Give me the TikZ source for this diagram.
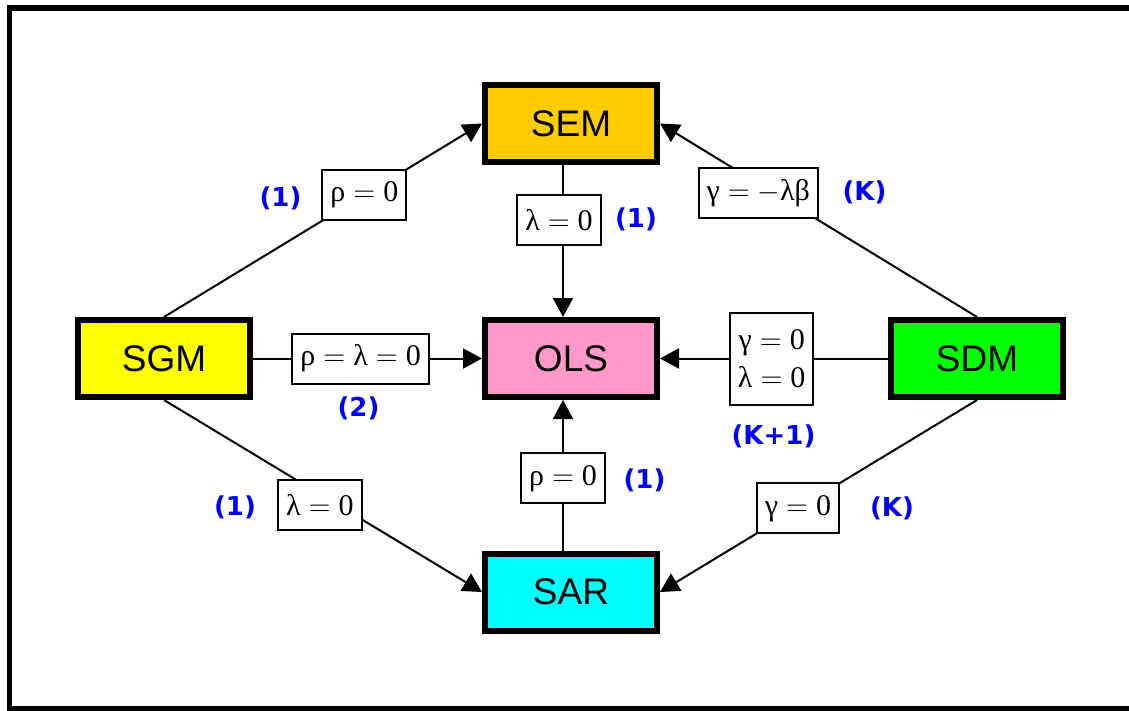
\documentclass[tikz,border=0pt]{standalone}
\usepackage{fontspec}
\setmainfont{Liberation Serif}
\newfontfamily\boxfont{Liberation Sans}
\newfontfamily\tagfont{DejaVu Sans}
\usetikzlibrary{arrows.meta}
\definecolor{semcol}{HTML}{FFCC00}
\definecolor{olscol}{HTML}{FF99CC}
\definecolor{sarcol}{HTML}{00FFFF}
\definecolor{sgmcol}{HTML}{FFFF00}
\definecolor{sdmcol}{HTML}{00FF00}
\definecolor{tagblue}{HTML}{0000FF}
\newcommand{\eqs}{\ensuremath{{}={}}}

\begin{document}
\begin{tikzpicture}[x=0.5pt, y=-0.5pt,
	model/.style={draw, line width=3pt, minimum width=86pt, minimum height=38.5pt, inner sep=0pt, font=\boxfont\fontsize{18.5}{20}\selectfont},
	cond/.style={draw, fill=white, line width=1pt, inner xsep=4pt, minimum height=25pt, font=\fontsize{15}{19}\selectfont},
	tag/.style={text=tagblue, font=\tagfont\bfseries\fontsize{13}{15}\selectfont},
	link/.style={line width=1pt, -{Triangle[length=9.5pt,width=10pt]}}]
		\useasboundingbox (0,0) rectangle (1129,711);
		% frame, cut off on the right
		\draw[line width=2.75pt] (1129,7.8) -- (9.5,7.8) -- (9.5,709) -- (1129,709);
		% models
		\node[model, fill=semcol] (SEM) at (571,123.5) {SEM};
		\node[model, fill=olscol] (OLS) at (571,358.5) {OLS};
		\node[model, fill=sarcol] (SAR) at (571,592) {SAR};
		\node[model, fill=sgmcol] (SGM) at (164,358.5) {SGM};
		\node[model, fill=sdmcol] (SDM) at (977,358.5) {SDM};
		% restrictions
		\draw[link] (SGM.north) -- node[cond, pos=.63] (c1) {ρ\eqs 0} (SEM.west);
		\draw[link] ([xshift=-4pt]SEM.south) -- node[cond, pos=.36, xshift=-2pt] (c2) {λ\eqs 0} ([xshift=-4pt]OLS.north);
		\draw[link] (SDM.north) -- node[cond, pos=.69, yshift=-5pt] (c3) {γ\eqs \ensuremath{-}λβ} (SEM.east);
		\draw[link] (SGM.east) -- node[cond, pos=.47] (c4) {ρ\eqs λ\eqs 0} (OLS.west);
		\draw[link] (SDM.west) -- node[cond, pos=.51, align=center, minimum height=46pt] (c5) {γ\eqs 0\\λ\eqs 0} (OLS.east);
		\draw[link] (SGM.south) -- node[cond, pos=.49, yshift=-5.5pt] (c6) {λ\eqs 0} (SAR.west);
		\draw[link] ([xshift=-4pt]SAR.north) -- node[cond, pos=.48] (c7) {ρ\eqs 0} ([xshift=-4pt]OLS.south);
		\draw[link] (SDM.south) -- node[cond, pos=.565] (c8) {γ\eqs 0} (SAR.east);
		% numbers of restrictions
		\node[tag] (t1) at (280.5,198) {(1)};
		\node[tag] (t2) at (636,219.5) {(1)};
		\node[tag] (t3) at (864.5,192.5) {(K)};
		\node[tag] (t4) at (358.5,408) {(2)};
		\node[tag] (t5) at (773.5,436) {(K+1)};
		\node[tag] (t6) at (235,507.5) {(1)};
		\node[tag] (t7) at (644.5,480.5) {(1)};
		\node[tag] (t8) at (892,508.5) {(K)};
	\end{tikzpicture}
\end{document}
